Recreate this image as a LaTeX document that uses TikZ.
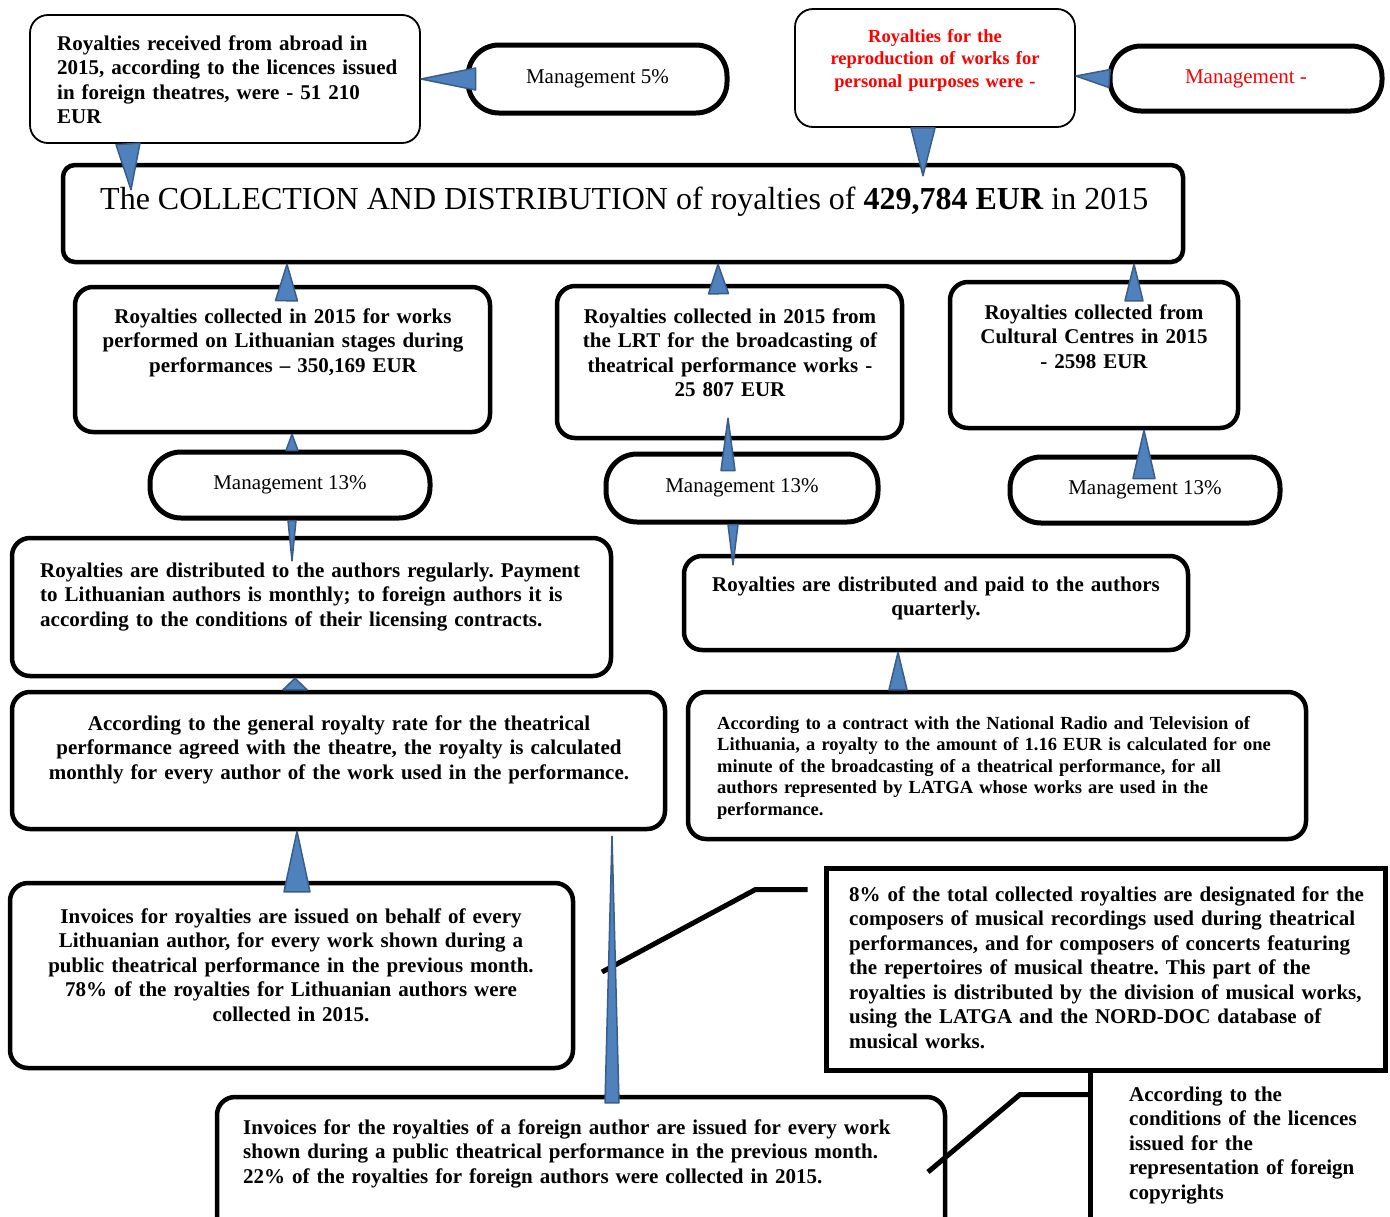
\documentclass[tikz,border=0pt]{standalone}
\usepackage{fontspec}
\setmainfont{Liberation Serif}
\usetikzlibrary{calc}
\frenchspacing

\definecolor{wblue}{HTML}{4F81BD}
\definecolor{wline}{HTML}{385D8A}

\newcommand\mgfont{\fontsize{21}{25}\selectfont}
\newcommand\flowwedge[3]{\filldraw[wedgefill] ($#1!#3!90:#2$) -- #2 -- ($#1!#3!-90:#2$) -- cycle;}

\tikzset{
  rbox/.style={draw,line width=4.5pt,rounded corners=18pt,fill=white,inner sep=0pt},
  thinbox/.style={draw,line width=1.8pt,rounded corners=18pt,fill=white,inner sep=0pt},
  pill/.style={draw,line width=5pt,rounded corners=31pt,fill=white,font=\mgfont},
  ctxt/.style={inner sep=0pt,anchor=base,align=center,font=\fontsize{21}{24.5}\selectfont\bfseries},
  ltxt/.style={inner sep=0pt,anchor=base west,align=left,font=\fontsize{21}{24.5}\selectfont\bfseries},
  wedgefill/.style={fill=wblue,draw=wline,line width=1.5pt,line join=round},
  callout/.style={line width=5pt}
}

\begin{document}
\begin{tikzpicture}[x=1pt,y=-1pt]
\useasboundingbox (0,0) rectangle (1390,1216);
\clip (0,0) rectangle (1390,1216);

\node (a) at (225,79)[thinbox,minimum width=390,minimum height=128]{};
\node (ta) at (57,50)[ltxt,text width=370]{Royalties received from abroad in\\2015, according to the licences issued\\in foreign theatres, were - 51 210\\EUR};

\node (mg5) at (597.5,79)[pill,minimum width=259,minimum height=68]{Management 5\%};

\node (r) at (935,68)[thinbox,minimum width=280,minimum height=118]{};
\node (tr) at (935,42)[ctxt,text width=270,text=red,font=\fontsize{18.5}{22.5}\selectfont\bfseries]{Royalties for the\\reproduction of works for\\personal purposes were -};

\node (mgr) at (1246,78.5)[pill,minimum width=272,minimum height=65,text=red]{Management -};

\node (t) at (623,213.5)[rbox,rounded corners=12pt,minimum width=1120,minimum height=97]{};
\node (tt) at (100,209)[anchor=base west,inner sep=0pt,font=\fontsize{32}{36}\selectfont]{The COLLECTION AND DISTRIBUTION of royalties of \textbf{429,784 EUR} in 2015};

\node (b1) at (282.5,359.5)[rbox,minimum width=415,minimum height=145]{};
\node (tb1) at (283,323)[ctxt,text width=400]{Royalties collected in 2015 for works\\performed on Lithuanian stages during\\performances -- 350,169 EUR};

\node (b2) at (729.5,362)[rbox,minimum width=345,minimum height=152]{};
\node (tb2) at (730,323)[ctxt,text width=335]{Royalties collected in 2015 from\\the LRT for the broadcasting of\\theatrical performance works -\\25 807 EUR};

\node (b3) at (1094,355)[rbox,minimum width=288,minimum height=146]{};
\node (tb3) at (1094,319)[ctxt,text width=280]{Royalties collected from\\Cultural Centres in 2015\\- 2598 EUR};

\node (m1) at (290,485)[pill,minimum width=280,minimum height=66]{Management 13\%};
\node (m2) at (742,488)[pill,minimum width=272,minimum height=68]{Management 13\%};
\node (m3) at (1145,490)[pill,minimum width=270,minimum height=66]{Management 13\%};

\node (c1) at (311.5,607)[rbox,minimum width=599,minimum height=138]{};
\node (tc1) at (40,577)[ltxt,text width=565]{Royalties are distributed to the authors regularly. Payment\\to Lithuanian authors is monthly; to foreign authors it is\\according to the conditions of their licensing contracts.};

\node (c2) at (936,603)[rbox,minimum width=504,minimum height=94]{};
\node (tc2) at (936,591)[ctxt,text width=490]{Royalties are distributed and paid to the authors\\quarterly.};

\node (d1) at (338.5,760.5)[rbox,minimum width=653,minimum height=137]{};
\node (td1) at (339,730)[ctxt,text width=640]{According to the general royalty rate for the theatrical\\performance agreed with the theatre, the royalty is calculated\\monthly for every author of the work used in the performance.};

\node (d2) at (997,765.5)[rbox,minimum width=618,minimum height=147]{};
\node (td2) at (717,729)[ltxt,text width=580,font=\fontsize{18.5}{21.5}\selectfont\bfseries]{According to a contract with the National Radio and Television of\\Lithuania, a royalty to the amount of 1.16 EUR is calculated for one\\minute of the broadcasting of a theatrical performance, for all\\authors represented by LATGA whose works are used in the\\performance.};

\node (e1) at (291.5,975.5)[rbox,minimum width=563,minimum height=185]{};
\node (te1) at (291,923)[ctxt,text width=550]{Invoices for royalties are issued on behalf of every\\Lithuanian author, for every work shown during a\\public theatrical performance in the previous month.\\78\% of the royalties for Lithuanian authors were\\collected in 2015.};

\node (e2) at (581,1170)[rbox,minimum width=728,minimum height=146]{};
\node (te2) at (243,1134)[ltxt,text width=690]{Invoices for the royalties of a foreign author are issued for every work\\shown during a public theatrical performance in the previous month.\\22\% of the royalties for foreign authors were collected in 2015.};

\node (f) at (1105.5,969)[draw,line width=5pt,fill=white,minimum width=559,minimum height=202]{};
\node (tf) at (849,901)[ltxt,text width=530]{8\% of the total collected royalties are designated for the\\composers of musical recordings used during theatrical\\performances, and for composers of concerts featuring\\the repertoires of musical theatre. This part of the\\royalties is distributed by the division of musical works,\\using the LATGA and the NORD-DOC database of\\musical works.};

\node (g) at (1129,1101)[ltxt,text width=255]{According to the\\conditions of the licences\\issued for the\\representation of foreign\\copyrights};

\coordinate (fcall) at (602,972);
\coordinate (gbar) at (1090,1240);
\coordinate (gcall) at (928,1172);
\draw[callout] ($(f.north west)+(-16,24)$) -- ++(-52,0) -- (fcall);
\draw[callout] (gbar |- f.south) -- (gbar);
\draw[callout] ($(f.south -| gbar)+(0,22)$) -- ++(-70,0) -- (gcall);

\flowwedge{([xshift=10pt]mg5.west)}{(a.east)}{11pt}
\flowwedge{([xshift=-97pt]a.south)}{([xshift=-492pt,yshift=-27pt]t.north)}{12pt}
\flowwedge{([xshift=-12pt]r.south)}{([xshift=300pt,yshift=-13pt]t.north)}{12pt}
\flowwedge{([xshift=2pt]mgr.west)}{([yshift=-8pt]r.east)}{9pt}
\flowwedge{([xshift=4pt,yshift=-16pt]b1.north)}{([xshift=-336pt]t.south)}{11pt}
\flowwedge{([xshift=-11pt,yshift=-10pt]b2.north)}{([xshift=95pt]t.south)}{10pt}
\flowwedge{([xshift=40pt,yshift=-21pt]b3.north)}{([xshift=511pt]t.south)}{9pt}
\flowwedge{([xshift=2pt,yshift=-1pt]m1.north)}{([xshift=9.5pt]b1.south)}{6pt}
\flowwedge{([xshift=2pt]m1.south)}{([xshift=-19.5pt,yshift=-25pt]c1.north)}{4pt}
\flowwedge{([xshift=-14pt,yshift=-19pt]m2.north)}{([xshift=-1.5pt,yshift=22pt]b2.south)}{7pt}
\flowwedge{([xshift=-9pt]m2.south)}{([xshift=-203pt,yshift=-11pt]c2.north)}{5pt}
\flowwedge{([xshift=-1pt,yshift=-24pt]m3.north)}{([xshift=50pt]b3.south)}{11pt}
\flowwedge{([xshift=-43.5pt]d1.north)}{([xshift=-16.5pt]c1.south)}{12pt}
\flowwedge{([xshift=-99pt]d2.north)}{([xshift=-38pt]c2.south)}{9pt}
\flowwedge{([xshift=5.5pt,yshift=-11pt]e1.north)}{([xshift=-41.5pt]d1.south)}{13pt}
\flowwedge{([xshift=31pt,yshift=-8pt]e2.north)}{([xshift=273.5pt,yshift=-5pt]d1.south)}{7pt}
\end{tikzpicture}
\end{document}
